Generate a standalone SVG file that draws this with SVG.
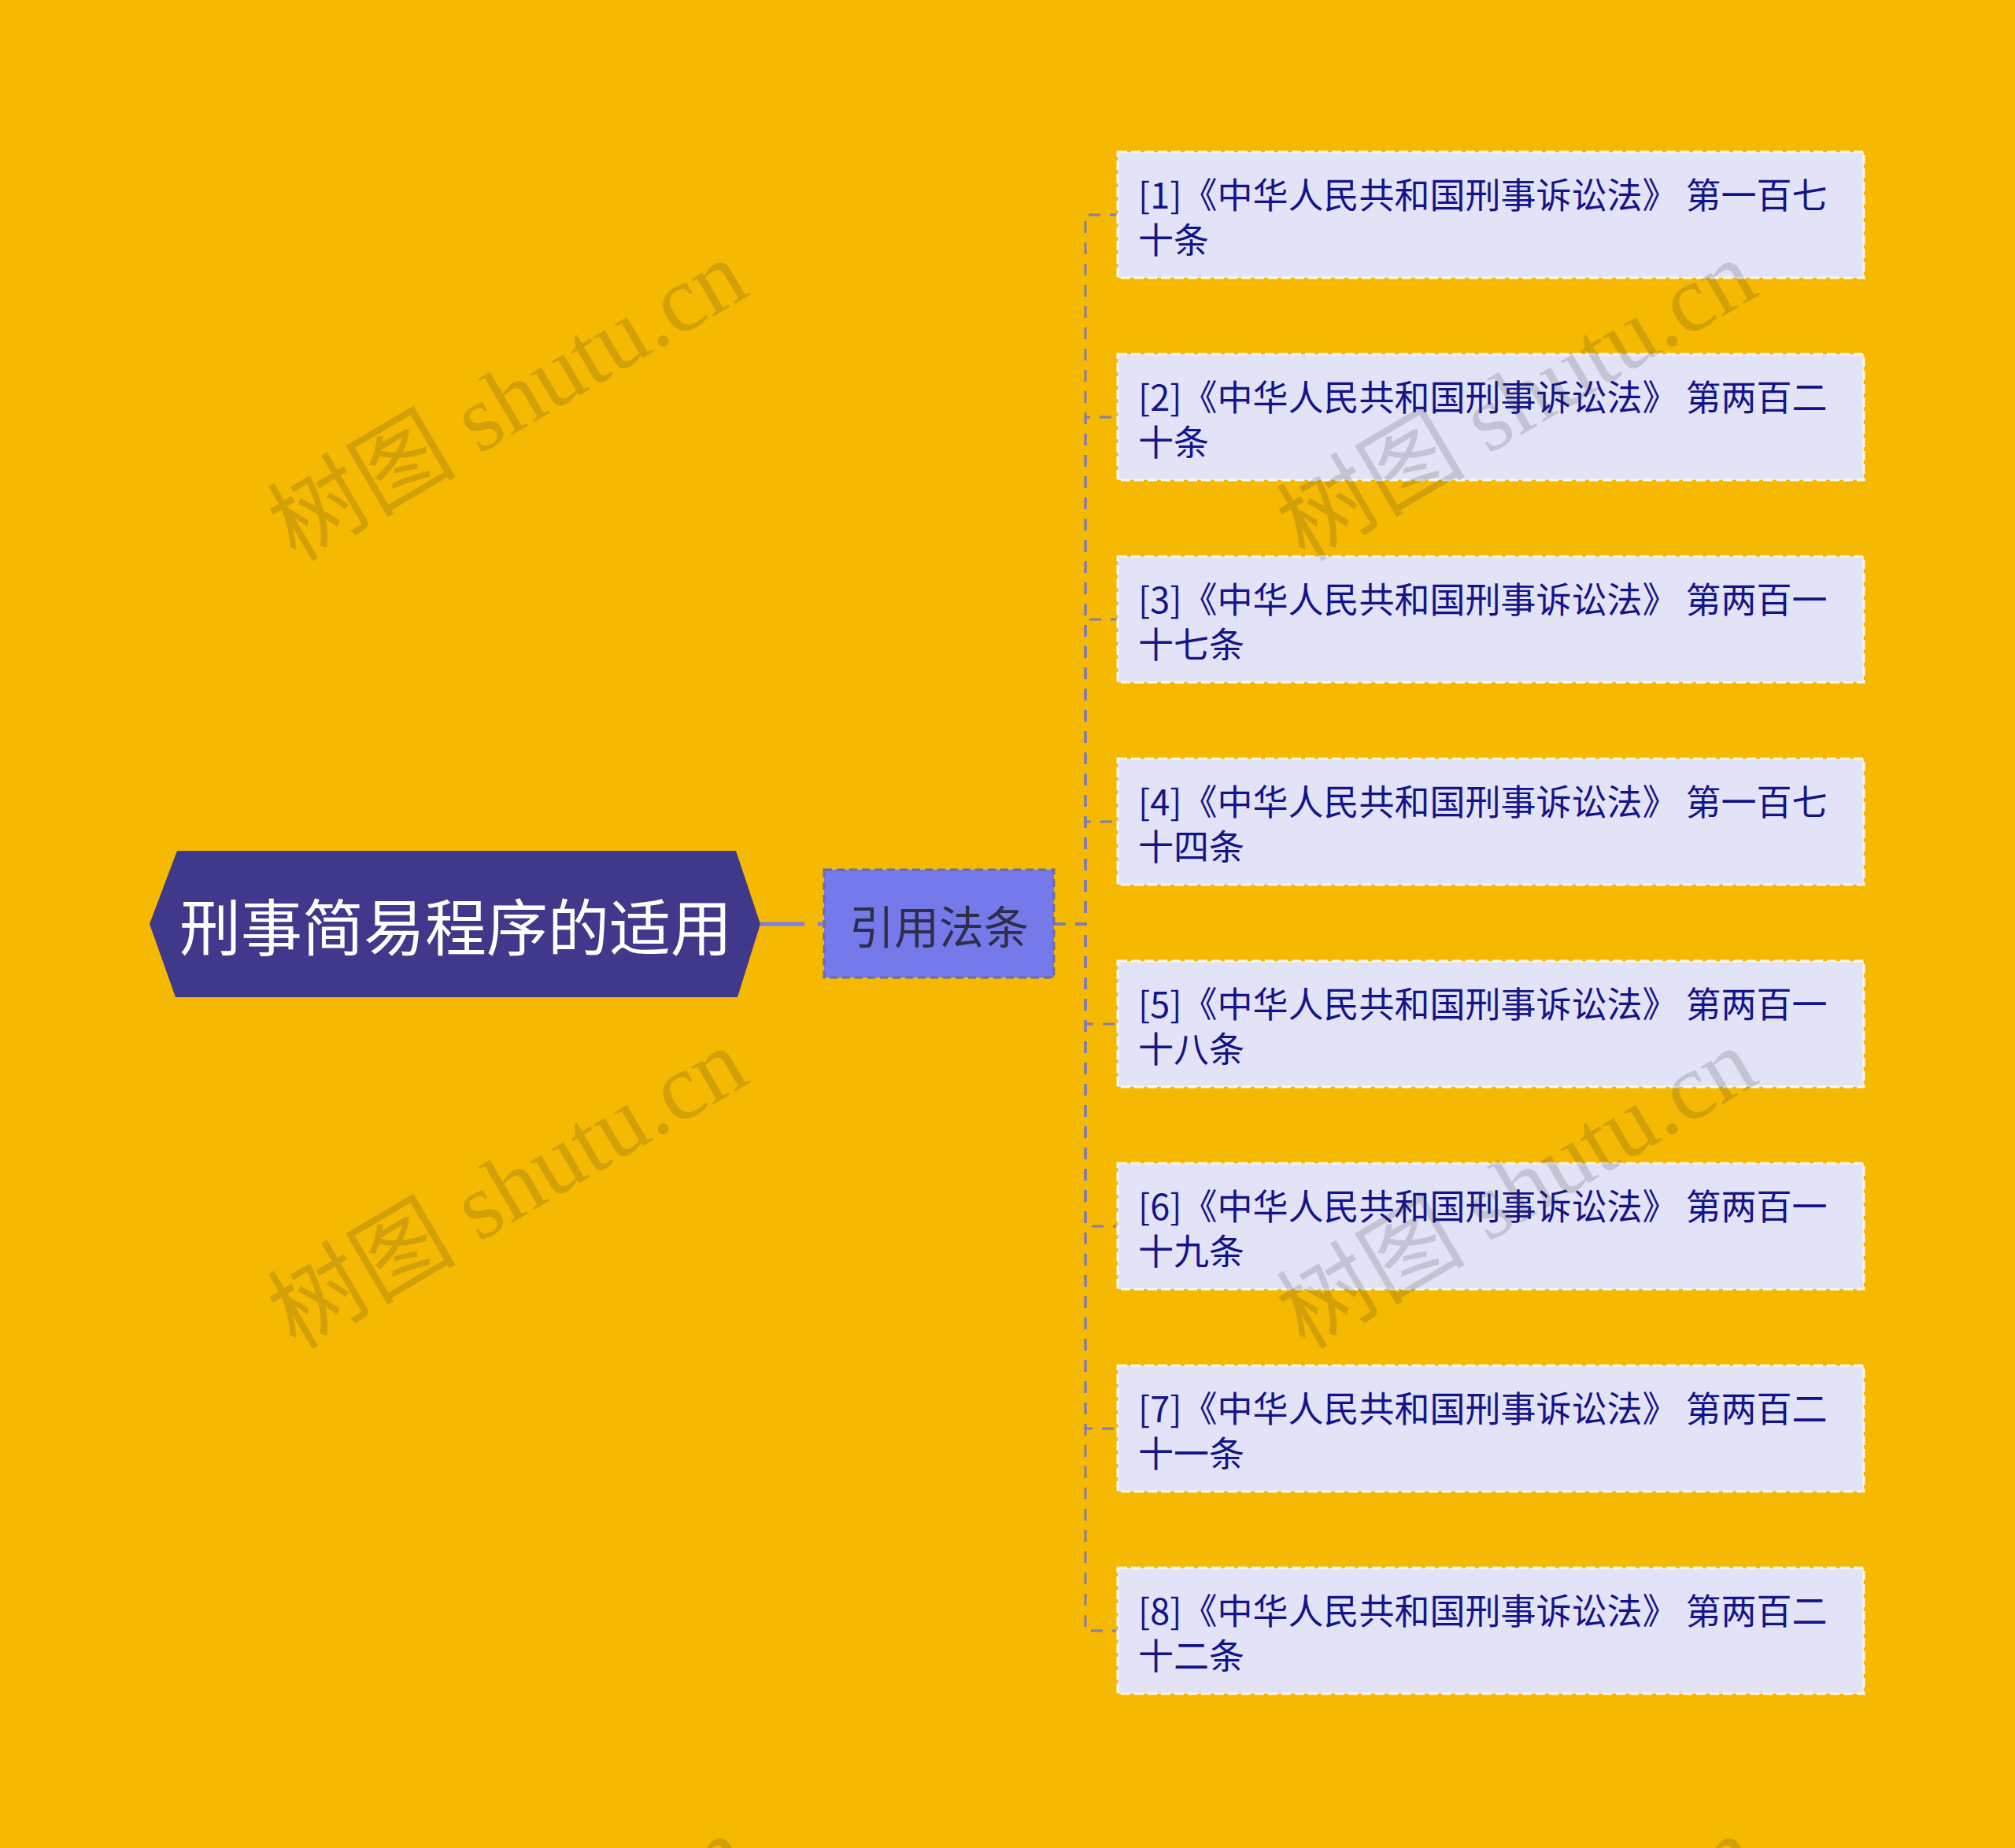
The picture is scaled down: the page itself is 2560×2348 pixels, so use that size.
<svg xmlns="http://www.w3.org/2000/svg" width="2560" height="2348" viewBox="0 0 2560 2348">
<style>
.wm{font-family:"Liberation Serif","Noto Sans CJK SC",serif;font-size:120px;fill:#333333;fill-opacity:0.18;text-anchor:middle;dominant-baseline:central}
.leaf rect{fill:#e3e3f8;stroke:#fbf7ee;stroke-width:3;stroke-dasharray:12 5}
.leaf text{font-family:"Noto Sans CJK SC","Noto Sans",sans-serif;font-size:45px;fill:#14148a;dominant-baseline:central}
.conn{fill:none;stroke:#7f7db6;stroke-width:3;stroke-dasharray:15 12}
</style>
<rect x="0" y="0" width="2560" height="2348" fill="#f6b901"/>
<g id="connectors">
<line x1="966" y1="1174" x2="1047" y2="1174" stroke="#7b7fe8" stroke-width="5" stroke-dasharray="56 17"/>
<path class="conn" d="M1339 1174 H1379 V273 H1420"/>
<path class="conn" d="M1339 1174 H1379 V530 H1420"/>
<path class="conn" d="M1339 1174 H1379 V787 H1420"/>
<path class="conn" d="M1339 1174 H1379 V1044 H1420"/>
<path class="conn" d="M1339 1174 H1379 V1301 H1420"/>
<path class="conn" d="M1339 1174 H1379 V1558 H1420"/>
<path class="conn" d="M1339 1174 H1379 V1815 H1420"/>
<path class="conn" d="M1339 1174 H1379 V2072 H1420"/>
</g>
<g id="root">
<polygon points="190,1174 225,1081 935,1081 966,1174 937,1267 223,1267" fill="#3f388b"/>
<text x="579" y="1174" font-family="Noto Sans CJK SC,Noto Sans,sans-serif" font-size="78" fill="#ffffff" text-anchor="middle" dominant-baseline="central">刑事简易程序的适用</text>
</g>
<g id="mid">
<rect x="1047" y="1105" width="292" height="137" fill="#7579ea" stroke="#6c6ca6" stroke-width="3" stroke-dasharray="10 6"/>
<text x="1193" y="1174" font-family="Noto Sans CJK SC,Noto Sans,sans-serif" font-size="57" fill="#2e2e48" text-anchor="middle" dominant-baseline="central">引用法条</text>
</g>
<g id="leaf1" class="leaf"><rect x="1420" y="193" width="948" height="160"/><text x="1446" y="245">[1]《中华人民共和国刑事诉讼法》 第一百七</text><text x="1446" y="302">十条</text></g>
<g id="leaf2" class="leaf"><rect x="1420" y="450" width="948" height="160"/><text x="1446" y="502">[2]《中华人民共和国刑事诉讼法》 第两百二</text><text x="1446" y="559">十条</text></g>
<g id="leaf3" class="leaf"><rect x="1420" y="707" width="948" height="160"/><text x="1446" y="759">[3]《中华人民共和国刑事诉讼法》 第两百一</text><text x="1446" y="816">十七条</text></g>
<g id="leaf4" class="leaf"><rect x="1420" y="964" width="948" height="160"/><text x="1446" y="1016">[4]《中华人民共和国刑事诉讼法》 第一百七</text><text x="1446" y="1073">十四条</text></g>
<g id="leaf5" class="leaf"><rect x="1420" y="1221" width="948" height="160"/><text x="1446" y="1273">[5]《中华人民共和国刑事诉讼法》 第两百一</text><text x="1446" y="1330">十八条</text></g>
<g id="leaf6" class="leaf"><rect x="1420" y="1478" width="948" height="160"/><text x="1446" y="1530">[6]《中华人民共和国刑事诉讼法》 第两百一</text><text x="1446" y="1587">十九条</text></g>
<g id="leaf7" class="leaf"><rect x="1420" y="1735" width="948" height="160"/><text x="1446" y="1787">[7]《中华人民共和国刑事诉讼法》 第两百二</text><text x="1446" y="1844">十一条</text></g>
<g id="leaf8" class="leaf"><rect x="1420" y="1992" width="948" height="160"/><text x="1446" y="2044">[8]《中华人民共和国刑事诉讼法》 第两百二</text><text x="1446" y="2101">十二条</text></g>
<g id="watermarks">
<text class="wm" transform="translate(645,509) rotate(-30.5)">树图 shutu.cn</text>
<text class="wm" transform="translate(1927,509) rotate(-30.5)">树图 shutu.cn</text>
<text class="wm" transform="translate(645,1510) rotate(-30.5)">树图 shutu.cn</text>
<text class="wm" transform="translate(1927,1510) rotate(-30.5)">树图 shutu.cn</text>
<text class="wm" transform="translate(645,2511) rotate(-30.5)">树图 shutu.cn</text>
<text class="wm" transform="translate(1927,2511) rotate(-30.5)">树图 shutu.cn</text>
</g>
</svg>
